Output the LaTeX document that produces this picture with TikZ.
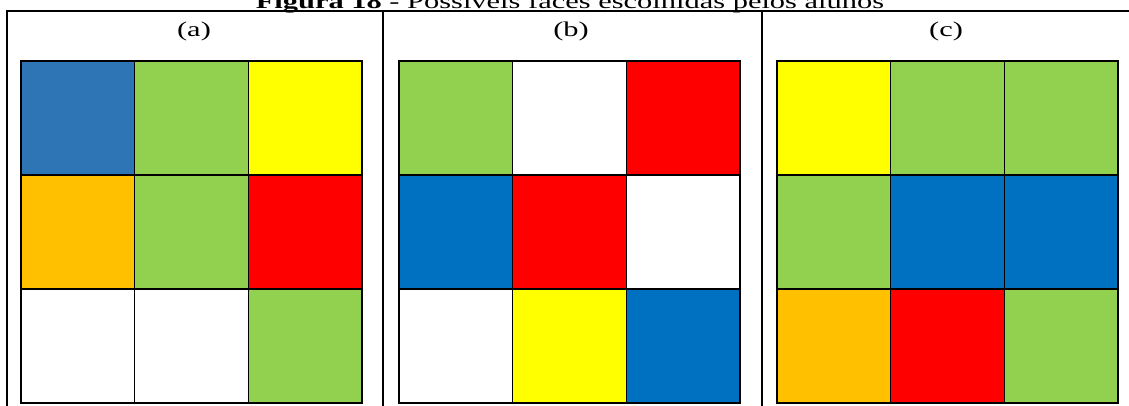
\documentclass[tikz,border=0pt]{standalone}
\usepackage{fontspec}
\setmainfont{Liberation Serif}
\definecolor{cblueA}{HTML}{2E75B6}
\definecolor{cblue}{HTML}{0070C0}
\definecolor{cgreen}{HTML}{92D050}
\definecolor{cyellow}{HTML}{FFFF00}
\definecolor{corange}{HTML}{FFC000}
\definecolor{cred}{HTML}{FF0000}
\definecolor{cwhite}{HTML}{FFFFFF}
\tikzset{
  cell/.style={draw=black, line width=1.2pt, minimum width=113.7pt, minimum height=114pt, inner sep=0pt, outer sep=0pt},
  frame/.style={line width=2.2pt, black},
  gridframe/.style={line width=2.2pt, black},
  lbl/.style={font=\fontsize{21}{24}\selectfont, inner sep=0pt, anchor=base},
}
\newcommand{\wide}[1]{\scalebox{1.45}[1]{#1}}
\begin{document}
\begin{tikzpicture}[x=1pt,y=-1pt]
\useasboundingbox (0,0) rectangle (1129,406);
\clip (0,0) rectangle (1129,406);
% title (cut off at top, as in the reference)
\node[lbl] (title) at (570,9) {\wide{\textbf{Figura 18} - Possíveis faces escolhidas pelos alunos}};
% table frame
\coordinate (tl) at (7,11);
\coordinate (tr) at (1135,11);
\coordinate (bl) at (7,410);
\coordinate (m1t) at (383,11);
\coordinate (m1b) at (383,410);
\coordinate (m2t) at (762,11);
\coordinate (m2b) at (762,410);
\draw[frame] (bl) -- (tl) -- (tr);
\draw[frame] (m1t) -- (m1b);
\draw[frame] (m2t) -- (m2b);
% labels
\node[lbl] (la) at (194,37) {\wide{(a)}};
\node[lbl] (lb) at (571,37) {\wide{(b)}};
\node[lbl] (lc) at (946,37) {\wide{(c)}};
% grid positions
\foreach \g/\x in {a/21, b/399, c/777}{
  \foreach \r in {1,2,3}{
    \foreach \c in {1,2,3}{
      \coordinate (\g\r\c pos) at ({\x + (\c-0.5)*113.7}, {61 + (\r-0.5)*114});
    }
  }
}
% (a)
\node[cell, fill=cblueA]  (a11) at (a11pos) {};
\node[cell, fill=cgreen]  (a12) at (a12pos) {};
\node[cell, fill=cyellow] (a13) at (a13pos) {};
\node[cell, fill=corange] (a21) at (a21pos) {};
\node[cell, fill=cgreen]  (a22) at (a22pos) {};
\node[cell, fill=cred]    (a23) at (a23pos) {};
\node[cell, fill=cwhite]  (a31) at (a31pos) {};
\node[cell, fill=cwhite]  (a32) at (a32pos) {};
\node[cell, fill=cgreen]  (a33) at (a33pos) {};
% (b)
\node[cell, fill=cgreen]  (b11) at (b11pos) {};
\node[cell, fill=cwhite]  (b12) at (b12pos) {};
\node[cell, fill=cred]    (b13) at (b13pos) {};
\node[cell, fill=cblue]   (b21) at (b21pos) {};
\node[cell, fill=cred]    (b22) at (b22pos) {};
\node[cell, fill=cwhite]  (b23) at (b23pos) {};
\node[cell, fill=cwhite]  (b31) at (b31pos) {};
\node[cell, fill=cyellow] (b32) at (b32pos) {};
\node[cell, fill=cblue]   (b33) at (b33pos) {};
% (c)
\node[cell, fill=cyellow] (c11) at (c11pos) {};
\node[cell, fill=cgreen]  (c12) at (c12pos) {};
\node[cell, fill=cgreen]  (c13) at (c13pos) {};
\node[cell, fill=cgreen]  (c21) at (c21pos) {};
\node[cell, fill=cblue]   (c22) at (c22pos) {};
\node[cell, fill=cblue]   (c23) at (c23pos) {};
\node[cell, fill=corange] (c31) at (c31pos) {};
\node[cell, fill=cred]    (c32) at (c32pos) {};
\node[cell, fill=cgreen]  (c33) at (c33pos) {};
% outer grid frames
\foreach \g in {a,b,c}{
  \draw[gridframe] (\g11.north west) rectangle (\g33.south east);
}
\end{tikzpicture}
\end{document}
